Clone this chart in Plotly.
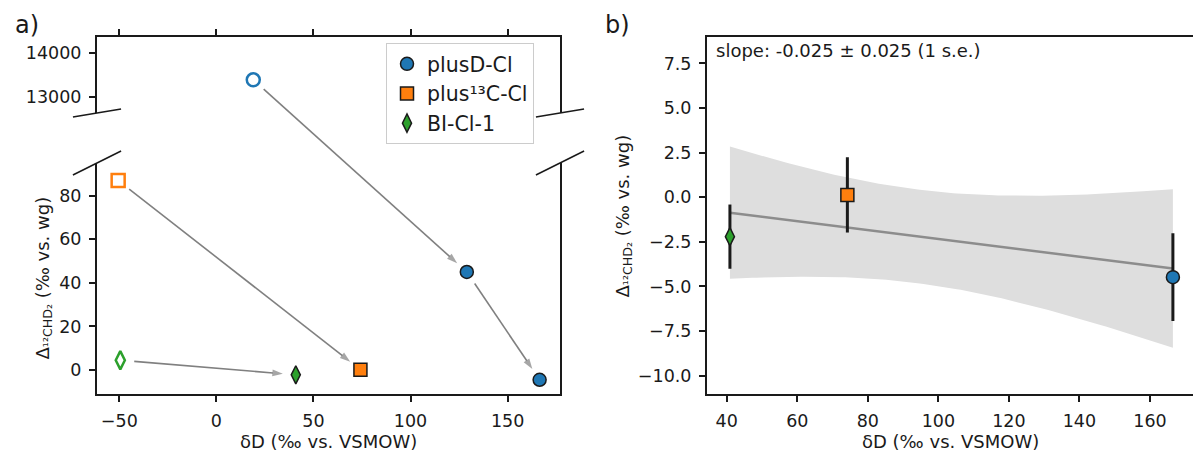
import numpy as np
import plotly.graph_objects as go

W, H = 1193, 456
FONT = "DejaVu Sans"
INK = "#1a1a1a"

# ---------------- data ----------------
names = ["plusD-Cl", "plus¹³C-Cl", "BI-Cl-1"]
colors = ["#1f77b4", "#ff7f0e", "#2ca02c"]
symbols = ["circle", "square", "diamond-tall"]

# panel a: initial (open markers)
init_dD = [19.0, -50.6, -49.5]
init_D = [13390.0, 87.0, 4.5]
# panel a: subsequent (filled markers), per sample
after_dD = [[129.0, 166.5], [74.2], [40.9]]
after_D = [[45.0, -4.48], [0.13], [-2.21]]

# panel b
b_names = ["BI-Cl-1", "plus¹³C-Cl", "plusD-Cl"]
b_dD = [40.9, 74.2, 166.5]
b_D = [-2.21, 0.13, -4.48]
b_err = [1.80, 2.11, 2.46]

# ticks
xa_ticks = [-50, 0, 50, 100, 150]
xa_text = ["−50", "0", "50", "100", "150"]
ya_low_ticks = [0, 20, 40, 60, 80]
ya_up_ticks = [13000, 14000]
ya_up_text = ["13000", "14000"]
xb_ticks = [40, 60, 80, 100, 120, 140, 160]
yb_ticks = [-10.0, -7.5, -5.0, -2.5, 0.0, 2.5, 5.0, 7.5]
yb_text = ["−10.0", "−7.5", "−5.0", "−2.5", "0.0", "2.5", "5.0", "7.5"]

# ---------------- geometry ----------------
xa_dom = [97 / W, 560 / W]
xa_rng = [-61.5, 177.0]
ya_low_dom = [(H - 394) / H, (H - 163) / H]
ya_low_rng = [-11.0, 95.0]
ya_up_dom = [(H - 113) / H, (H - 37) / H]
ya_up_rng = [12636, 14364]
xb_dom = [707 / W, 1.0]
xb_rng = [34.4, 172.2]
yb_dom = [(H - 394) / H, (H - 37) / H]
yb_rng = [-11.03, 8.98]

MSIZE = [13, 13, 13]


def yaxis_for(v):
    return ("y2", ya_up_dom, ya_up_rng) if v > 1000 else ("y", ya_low_dom, ya_low_rng)


def to_px(xv, yv):
    _, ydom, yrng = yaxis_for(yv)
    px = (xa_dom[0] + (xv - xa_rng[0]) / (xa_rng[1] - xa_rng[0]) * (xa_dom[1] - xa_dom[0])) * W
    py = (1 - (ydom[0] + (yv - yrng[0]) / (yrng[1] - yrng[0]) * (ydom[1] - ydom[0]))) * H
    return px, py


fig = go.Figure()

# ---------------- panel a traces ----------------
for i in range(3):
    ya, _, _ = yaxis_for(init_D[i])
    fig.add_trace(go.Scatter(
        x=[init_dD[i]], y=[init_D[i]], mode="markers", showlegend=False,
        xaxis="x2" if ya == "y2" else "x", yaxis=ya,
        marker=dict(symbol=symbols[i] + "-open", size=MSIZE[i],
                    color=colors[i], line=dict(color=colors[i], width=2.5)),
    ))
for i in range(3):
    fig.add_trace(go.Scatter(
        x=after_dD[i], y=after_D[i], mode="markers", name=names[i],
        xaxis="x", yaxis="y",
        marker=dict(symbol=symbols[i], size=MSIZE[i],
                    color=colors[i], line=dict(color=INK, width=1.5)),
    ))

# arrows between successive states (positions derived from the data)
SO_START, SO_END = 14, 13
for i in range(3):
    xs = [init_dD[i]] + after_dD[i]
    ys = [init_D[i]] + after_D[i]
    for k in range(len(xs) - 1):
        tx, ty = to_px(xs[k], ys[k])
        hx, hy = to_px(xs[k + 1], ys[k + 1])
        L = np.hypot(hx - tx, hy - ty)
        ux, uy = (hx - tx) / L, (hy - ty) / L
        fig.add_trace(go.Scatter(
            x=[tx + ux * SO_START, hx - ux * SO_END],
            y=[ty + uy * SO_START, hy - uy * SO_END],
            mode="lines+markers", showlegend=False, hoverinfo="skip",
            xaxis="x4", yaxis="y4",
            line=dict(color="#808080", width=1.6),
            marker=dict(symbol=["circle", "arrow"], size=[0, 11], angleref="previous",
                        color="#808080", line=dict(width=0)),
        ))

# ---------------- panel b ----------------
xarr = np.array(b_dD)
yarr = np.array(b_D)
slope, intercept = np.polyfit(xarr, yarr, 1)
resid = yarr - (slope * xarr + intercept)
n = len(xarr)
s = np.sqrt(np.sum(resid ** 2) / (n - 2))
sxx = np.sum((xarr - xarr.mean()) ** 2)
se_slope = s / np.sqrt(sxx)
xx = np.linspace(xarr.min(), xarr.max(), 120)
fit = slope * xx + intercept
se_fit = s * np.sqrt(1 / n + (xx - xarr.mean()) ** 2 / sxx)
upper = fit + 1.96 * se_fit
lower = fit - 1.96 * se_fit

fig.add_trace(go.Scatter(
    x=np.concatenate([xx, xx[::-1]]), y=np.concatenate([upper, lower[::-1]]),
    fill="toself", fillcolor="#dedede", line=dict(width=0), mode="lines",
    showlegend=False, hoverinfo="skip", xaxis="x3", yaxis="y3",
))
fig.add_trace(go.Scatter(
    x=xx, y=fit, mode="lines", line=dict(color="#8c8c8c", width=2.5),
    showlegend=False, xaxis="x3", yaxis="y3",
))
for j in range(3):
    ci = names.index(b_names[j])
    fig.add_trace(go.Scatter(
        x=[b_dD[j]], y=[b_D[j]], mode="markers", showlegend=False,
        xaxis="x3", yaxis="y3",
        error_y=dict(type="data", array=[b_err[j]], color=INK, thickness=3, width=0),
        marker=dict(symbol=symbols[ci], size=MSIZE[ci],
                    color=colors[ci], line=dict(color=INK, width=1.5)),
    ))

# ---------------- text annotations ----------------
annotations = [
    dict(text="a)", x=13 / W, y=1 - 25 / H, xref="paper", yref="paper",
         xanchor="left", yanchor="middle", showarrow=False, font=dict(size=24, color=INK)),
    dict(text="b)", x=603 / W, y=1 - 25 / H, xref="paper", yref="paper",
         xanchor="left", yanchor="middle", showarrow=False, font=dict(size=24, color=INK)),
    dict(text=f"slope: {slope:.3f} ± {se_slope:.3f} (1 s.e.)", x=714 / W, y=1 - 50 / H,
         xref="paper", yref="paper", xanchor="left", yanchor="middle", showarrow=False,
         font=dict(size=18, color=INK)),
    dict(text="δD (‰ vs. VSMOW)", x=(xa_dom[0] + xa_dom[1]) / 2, y=1 - 441 / H,
         xref="paper", yref="paper", xanchor="center", yanchor="middle", showarrow=False,
         font=dict(size=18, color=INK)),
    dict(text="δD (‰ vs. VSMOW)", x=(xb_dom[0] + xb_dom[1]) / 2, y=1 - 441 / H,
         xref="paper", yref="paper", xanchor="center", yanchor="middle", showarrow=False,
         font=dict(size=18, color=INK)),
    dict(text="Δ<sub>¹²CHD₂</sub> (‰ vs. wg)", x=43 / W, y=(ya_low_dom[0] + ya_low_dom[1]) / 2,
         xref="paper", yref="paper", xanchor="center", yanchor="middle", textangle=-90,
         showarrow=False, font=dict(size=18, color=INK)),
    dict(text="Δ<sub>¹²CHD₂</sub> (‰ vs. wg)", x=623 / W, y=(yb_dom[0] + yb_dom[1]) / 2,
         xref="paper", yref="paper", xanchor="center", yanchor="middle", textangle=-90,
         showarrow=False, font=dict(size=18, color=INK)),
]

# ---------------- break marks ----------------
d = 0.052
shapes = []
for xr, yr in (("x2 domain", "y2 domain"), ("x domain", "y domain")):
    ybase = 0 if xr.startswith("x2") else 1
    for xbase in (0, 1):
        shapes.append(dict(type="line", xref=xr, yref=yr,
                           x0=xbase - d, y0=ybase - d, x1=xbase + d, y1=ybase + d,
                           line=dict(color=INK, width=1.5)))

ax_common = dict(showline=True, linecolor=INK, linewidth=2, ticks="outside", ticklen=6,
                 tickwidth=1.8, tickcolor=INK, tickfont=dict(size=17.5, color=INK, family=FONT),
                 showgrid=False, zeroline=False, fixedrange=True, automargin=False)

fig.update_layout(
    width=W, height=H, margin=dict(l=0, r=0, t=0, b=0),
    paper_bgcolor="white", plot_bgcolor="rgba(0,0,0,0)",
    font=dict(family=FONT, color=INK),
    xaxis=dict(ax_common, domain=xa_dom, range=xa_rng, anchor="y", tickvals=xa_ticks,
               ticktext=xa_text, mirror=False, ticklabelstandoff=4),
    yaxis=dict(ax_common, domain=ya_low_dom, range=ya_low_rng, anchor="x",
               tickvals=ya_low_ticks, mirror=True, ticklabelstandoff=4),
    xaxis2=dict(ax_common, domain=xa_dom, range=xa_rng, anchor="y2", side="top",
                tickvals=xa_ticks, showticklabels=False, mirror=False),
    yaxis2=dict(ax_common, domain=ya_up_dom, range=ya_up_rng, anchor="x2",
                tickvals=ya_up_ticks, ticktext=ya_up_text, mirror=True, ticklabelstandoff=4),
    xaxis3=dict(ax_common, domain=xb_dom, range=xb_rng, anchor="y3", tickvals=xb_ticks,
                mirror=True, ticklabelstandoff=4),
    yaxis3=dict(ax_common, domain=yb_dom, range=yb_rng, anchor="x3", tickvals=yb_ticks,
                ticktext=yb_text, mirror=False, ticklabelstandoff=4),
    # invisible full-figure pixel frame used only to draw the arrows across the broken axis
    xaxis4=dict(domain=[0, 1], range=[0, W], anchor="y4", visible=False, fixedrange=True),
    yaxis4=dict(domain=[0, 1], range=[H, 0], anchor="x4", visible=False, fixedrange=True),
    legend=dict(x=386 / W, y=1 - 43 / H, xanchor="left", yanchor="top",
                bgcolor="white", bordercolor="#cccccc", borderwidth=1,
                font=dict(size=20.5, color=INK, family=FONT)),
    annotations=annotations, shapes=shapes,
)

fig.write_html("out.html")
